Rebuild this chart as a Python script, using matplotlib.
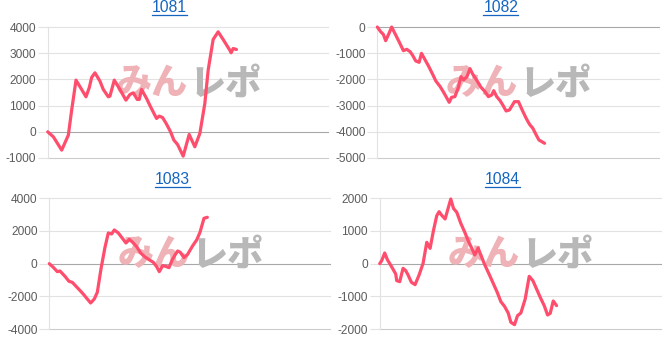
import matplotlib
matplotlib.use("Agg")
import matplotlib.pyplot as plt
from matplotlib.lines import Line2D

plt.rcParams['font.family'] = ['Liberation Sans', 'DejaVu Sans']

# ---------------- data ----------------
titles = ["1081", "1082", "1083", "1084"]

x1081 = [0, 17, 42, 62, 72, 85, 102, 115, 125, 132, 142, 157, 167, 182, 187, 200, 217, 235,
         247, 257, 269, 275, 282, 297, 309, 327, 335, 345, 357, 369, 379, 390, 407, 425, 442,
         457, 472, 482, 497, 512, 527, 547, 551, 557, 567]
y1081 = [0, -191, -700, -127, 827, 1972, 1615, 1336, 1692, 2073, 2251, 1933, 1615, 1336, 1361,
         1972, 1615, 1208, 1425, 1488, 1234, 1234, 1615, 1272, 954, 509, 598, 547, 293, 0, -318,
         -483, -929, -102, -572, -64, 1081, 2353, 3523, 3816, 3523, 3116, 3015, 3180, 3142]

x1082 = [0, 10, 18, 25, 35, 43, 50, 65, 78, 88, 98, 105, 115, 125, 132, 142, 153, 165, 175,
         188, 200, 215, 222, 232, 242, 250, 258, 268, 277, 285, 298, 310, 322, 332, 342, 348,
         357, 367, 375, 385, 395, 410, 422, 433, 445, 455, 465, 475, 483, 500]
y1082 = [0, -178, -280, -522, -242, 0, -178, -560, -903, -852, -941, -1068, -1297, -1348, -1005,
         -1234, -1488, -1794, -2061, -2277, -2531, -2875, -2684, -2658, -2315, -1895, -2022,
         -1895, -1590, -1794, -2048, -2302, -2468, -2658, -2595, -2430, -2658, -2811, -2976,
         -3205, -3167, -2849, -2849, -3167, -3485, -3714, -3867, -4121, -4312, -4439]

x1083 = [0, 12, 24, 32, 47, 59, 69, 85, 100, 114, 124, 135, 144, 155, 167, 177, 187, 195, 207,
         217, 230, 240, 250, 262, 274, 287, 299, 312, 322, 330, 340, 349, 359, 369, 379, 385,
         393, 404, 415, 429, 442, 452, 464, 474]
y1083 = [0, -224, -490, -449, -776, -1082, -1143, -1490, -1816, -2163, -2408, -2163, -1755,
         -327, 1000, 1878, 1816, 2061, 1878, 1612, 1265, 1490, 1306, 1041, 653, 408, 245, 82,
         -184, -490, -122, -163, -245, 245, 592, 776, 694, 367, 571, 1061, 1449, 1918, 2776, 2837]

x1084 = [0, 6, 15, 23, 35, 48, 51, 60, 70, 78, 85, 95, 106, 118, 130, 141, 151, 161, 171, 178,
         185, 196, 205, 213, 221, 231, 243, 255, 265, 277, 285, 295, 303, 315, 328, 341, 353,
         363, 374, 385, 393, 404, 413, 423, 436, 448, 459, 470, 481, 493, 503, 511, 520, 530]
y1084 = [0, 92, 326, 122, -82, -316, -520, -551, -143, -214, -347, -571, -643, -347, 10, 653,
         469, 1010, 1469, 1591, 1489, 1367, 1693, 1979, 1693, 1571, 1234, 959, 704, 449, 265,
         479, 265, -41, -326, -622, -898, -1163, -1306, -1510, -1795, -1867, -1591, -1510,
         -1081, -388, -520, -775, -1030, -1285, -1571, -1520, -1142, -1285]

series_x = [x1081, x1082, x1083, x1084]
series_y = [y1081, y1082, y1083, y1084]
y_ticks = [[-1000, 0, 1000, 2000, 3000, 4000],
           [-5000, -4000, -3000, -2000, -1000, 0],
           [-4000, -2000, 0, 2000, 4000],
           [-2000, -1000, 0, 1000, 2000]]
x_span = 842

# ---------------- layout ----------------
W, H = 668, 338
fig = plt.figure(figsize=(W / 100, H / 100), dpi=100)

# axes boxes in pixels: left, right, top, bottom
boxes = [(47.7, 328.0, 27.0, 158.0),
         (377.3, 659.0, 27.0, 158.0),
         (49.3, 330.0, 198.3, 329.0),
         (379.7, 660.7, 198.3, 329.0)]
title_pos = [(169.5, 12.3), (500.7, 12.3), (172.3, 184.0), (502.3, 184.0)]

line_color = '#ff4d6d'
grid_color = '#e2e2e2'
zero_color = '#a8a8a8'
tick_color = '#5c5c5c'
title_color = '#1565c0'

texts = []
for i in range(4):
    l, r, t, b = boxes[i]
    ax = fig.add_axes([l / W, 1 - b / H, (r - l) / W, (b - t) / H])
    ticks = y_ticks[i]
    ax.set_xlim(0, x_span)
    ax.set_ylim(ticks[0], ticks[-1])
    ax.set_yticks(ticks)
    ax.set_yticklabels([str(v) for v in ticks])
    ax.set_xticks([])
    for s in ['top', 'right', 'bottom']:
        ax.spines[s].set_visible(False)
    ax.spines['left'].set_color(grid_color)
    ax.spines['left'].set_linewidth(0.8)
    ax.tick_params(axis='y', length=7.5, width=0.8, color=grid_color, pad=1,
                   labelsize=8.6, labelcolor=tick_color)
    for v in ticks:
        c = zero_color if v == 0 else grid_color
        if v == ticks[0] and v != 0:
            c = '#cccccc'
        ax.axhline(v, color=c, lw=0.8, zorder=1, clip_on=False)
    # watermark
    ax.text(0.50, 0.57, 'みん', transform=ax.transAxes, ha='right', va='center',
            fontsize=26, fontweight=900, color='#efb2b6', zorder=2,
            family=['Noto Sans CJK JP', 'DejaVu Sans'])
    ax.text(0.505, 0.57, 'レポ', transform=ax.transAxes, ha='left', va='center',
            fontsize=26, fontweight=900, color='#b8b8b8', zorder=2,
            family=['Noto Sans CJK JP', 'DejaVu Sans'])
    ax.plot(series_x[i], series_y[i], color=line_color, lw=2.3, zorder=5,
            solid_joinstyle='round', solid_capstyle='round', clip_on=False)
    tx, ty = title_pos[i]
    txt = fig.text(tx / W, 1 - ty / H, titles[i], ha='center', va='baseline',
                   fontsize=11.3, color=title_color)
    texts.append((txt, ty))

renderer = fig.canvas.get_renderer()
for txt, ty in texts:
    bb = txt.get_window_extent(renderer)
    yline = 1 - (ty + 2.7) / H
    fig.add_artist(Line2D([bb.x0 / W, bb.x1 / W], [yline, yline],
                          transform=fig.transFigure, color=title_color, lw=0.9))

fig.savefig('out.png', dpi=100)
